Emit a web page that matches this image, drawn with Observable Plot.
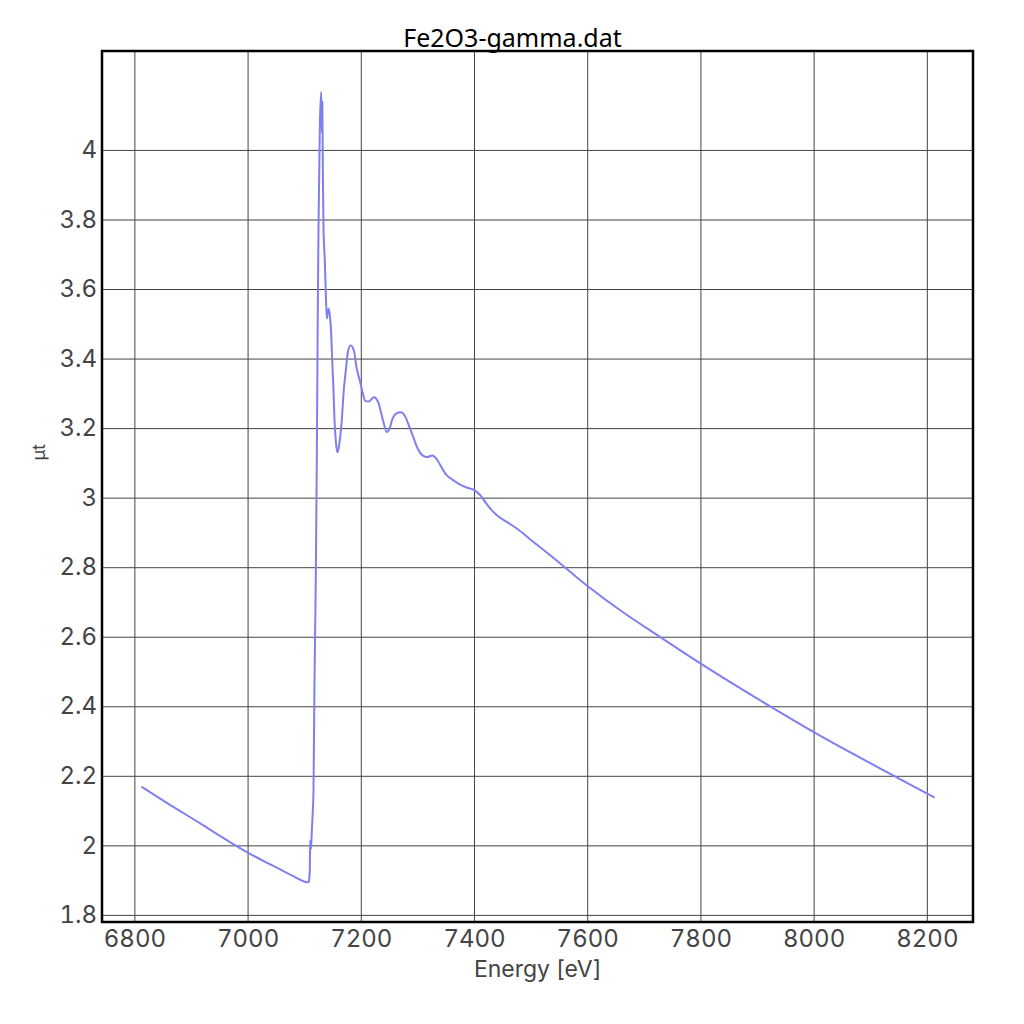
<!DOCTYPE html>
<html>
<head>
<meta charset="utf-8">
<script src="https://cdn.jsdelivr.net/npm/d3@7"></script>
<script src="https://cdn.jsdelivr.net/npm/@observablehq/plot@0.6"></script>
<style>
  body { margin: 0; background: #fff; }
</style>
</head>
<body>
<main id="chart"></main>
<script>
// spectrum
let energy = [
  6813, 6860, 6916, 6950, 7000, 7040, 7070, 7090, 7100, 7107, 7108.3, 7109, 7109.7,
  7111, 7112, 7114, 7115.5, 7117.3, 7119.5,
  7121.4, 7123.1, 7124.4, 7126.7, 7129.2, 7130.3, 7131.2, 7132, 7133.2, 7135.5, 7137.3,
  7139.1, 7140.5, 7142, 7143.8, 7146.8, 7149.1, 7150.9, 7152.7, 7155, 7157.4, 7159.5, 7162, 7165.5,
  7168.6, 7172.6, 7176.9, 7181.4, 7187.5, 7191.5, 7198.6, 7202.7, 7207.4, 7213.3, 7222.1,
  7229.9, 7234, 7239.2, 7245.1, 7249.8, 7255.1, 7262.2, 7269.8, 7278.1, 7285.2, 7292.8,
  7299.8, 7308.1, 7316.4, 7325.8, 7332.9, 7339.9, 7348.8, 7357.6, 7372.3, 7387.1, 7398.8,
  7410.6, 7419.4, 7428.3, 7440.1, 7457.8, 7475.4, 7504.8, 7534.3, 7598.4, 7658, 7728.6,
  7799.8, 7919.4, 7999.5, 8140.3, 8199.8, 8211.5
];
let mut = [
  2.169, 2.120, 2.064, 2.029, 1.980, 1.946, 1.921, 1.904, 1.897, 1.895, 1.91, 1.929, 2.015,
  1.99, 2.02, 2.09, 2.154, 2.471, 2.75,
  3.108, 3.531, 3.776, 4.063, 4.168, 4.05, 4.14, 3.95, 3.78, 3.684, 3.589,
  3.517, 3.53, 3.545, 3.533, 3.474, 3.377, 3.31, 3.223, 3.165, 3.132, 3.14, 3.166, 3.223,
  3.301, 3.367, 3.425, 3.439, 3.42, 3.377, 3.33, 3.301, 3.279, 3.278, 3.29,
  3.276, 3.252, 3.218, 3.19, 3.199, 3.228, 3.244, 3.247, 3.233, 3.204, 3.171,
  3.142, 3.123, 3.118, 3.123, 3.113, 3.094, 3.07, 3.057, 3.041, 3.03, 3.024,
  3.008, 2.988, 2.969, 2.95, 2.931, 2.912, 2.873, 2.835, 2.749, 2.677, 2.6,
  2.524, 2.404, 2.327, 2.202, 2.15, 2.14
];
let xTicks = [6800, 7000, 7200, 7400, 7600, 7800, 8000, 8200];
let yTicks = [1.8, 2, 2.2, 2.4, 2.6, 2.8, 3, 3.2, 3.4, 3.6, 3.8, 4];

let points = energy.map((e, i) => ({ e: e, v: mut[i] }));

let chart = Plot.plot({
  width: 1024,
  height: 1024,
  marginTop: 50.5,
  marginBottom: 102.5,
  marginLeft: 101.5,
  marginRight: 51.5,
  x: { domain: [6741.9, 8280.7] },
  y: { domain: [1.781, 4.286] },
  style: {
    fontSize: 24,
    fontFamily: "Inter, 'Noto Sans', sans-serif",
    color: "#444",
    background: "#fff"
  },
  marks: [
    Plot.gridX(xTicks, { stroke: "#444", strokeOpacity: 1, strokeWidth: 1 }),
    Plot.gridY(yTicks, { stroke: "#444", strokeOpacity: 1, strokeWidth: 1 }),
    Plot.line(points, { x: "e", y: "v", stroke: "#7f7fef", strokeWidth: 2, curve: "monotone-x" }),
    Plot.frame({ stroke: "black", strokeWidth: 2.5 }),
    Plot.axisX({ ticks: xTicks, tickSize: 0, tickPadding: 8, label: null, fill: "#444",
      tickFormat: d => String(d) }),
    Plot.axisY({ ticks: yTicks, tickSize: 0, tickPadding: 5, label: null, fill: "#444",
      tickFormat: d => String(+d.toFixed(1)) }),
    Plot.text(["Energy [eV]"], { frameAnchor: "bottom", lineAnchor: "bottom", dy: 55, fill: "#444", fontSize: 23 }),
    Plot.text(["μt"], { frameAnchor: "left", dx: -63, dy: -26, rotate: -90, fill: "#444", fontSize: 18 }),
    Plot.text(["Fe2O3-gamma.dat"], { frameAnchor: "top", lineAnchor: "bottom", dx: -25, dy: -4, fill: "black",
      fontSize: 25, fontFamily: "'Noto Sans', sans-serif" })
  ]
});

d3.select("#chart").append(() => chart);
</script>
</body>
</html>
